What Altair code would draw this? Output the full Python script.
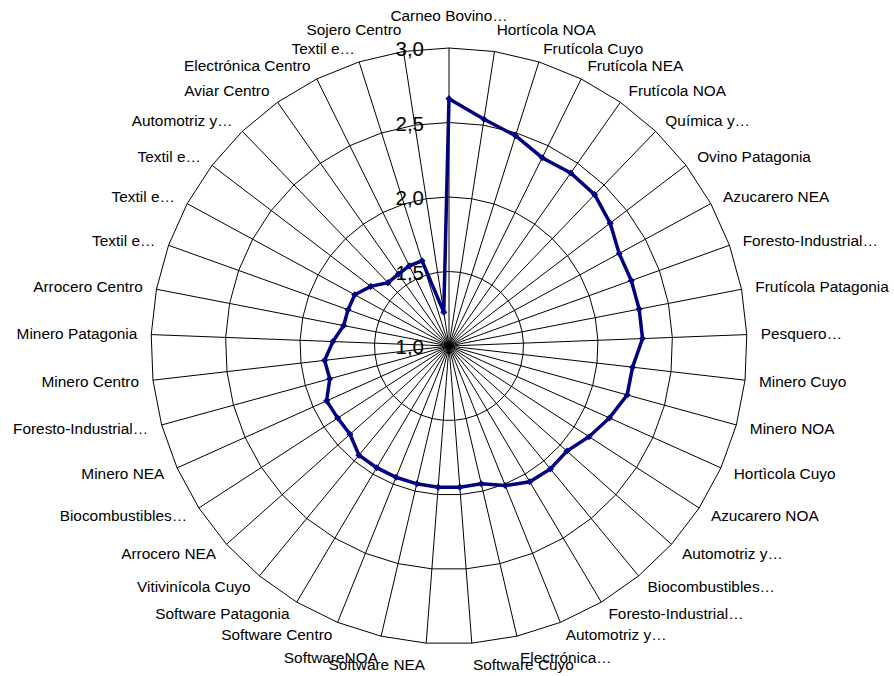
import altair as alt
import pandas as pd

# ---- data ----
categories = [
    "Carneo Bovino…", "Hortícola NOA", "Frutícola Cuyo", "Frutícola NEA", "Frutícola NOA",
    "Química y…", "Ovino Patagonia", "Azucarero NEA", "Foresto-Industrial…", "Frutícola Patagonia",
    "Pesquero…", "Minero Cuyo", "Minero NOA", "Hortìcola Cuyo", "Azucarero NOA",
    "Automotriz y…", "Biocombustibles…", "Foresto-Industrial…", "Automotriz y…", "Electrónica…",
    "Software Cuyo", "Software NEA", "SoftwareNOA", "Software Centro", "Software Patagonia",
    "Vitivinícola Cuyo", "Arrocero NEA", "Biocombustibles…", "Minero NEA", "Foresto-Industrial…",
    "Minero Centro", "Minero Patagonia", "Arrocero Centro", "Textil e…", "Textil e…",
    "Textil e…", "Automotriz y…", "Aviar Centro", "Electrónica Centro", "Textil e…",
    "Sojero Centro",
]
values = [
    2.66, 2.54, 2.48, 2.41, 2.42,
    2.41, 2.36, 2.30, 2.30, 2.30,
    2.30, 2.24, 2.24, 2.18, 2.12,
    2.06, 2.07, 2.06, 2.01, 1.95,
    1.95, 1.95, 1.95, 1.95, 1.95,
    1.95, 1.89, 1.89, 1.90, 1.83,
    1.84, 1.78, 1.72, 1.72, 1.72,
    1.66, 1.59, 1.59, 1.60, 1.60,
    1.23,
]
ring_levels = [1.5, 2.0, 2.5, 3.0]
tick_values = [1.0, 1.5, 2.0, 2.5, 3.0]
tick_labels = ["1,0", "1,5", "2,0", "2,5", "3,0"]

# ---- layout constants ----
N = len(categories)
RMIN = tick_values[0]
RSPAN = tick_values[-1] - tick_values[0]
W, H = 894, 676
CX, CY = 449.0, 346.0
PX = 149.0  # pixels per value unit

xscale = alt.Scale(domain=[-CX / PX, (W - CX) / PX], nice=False, zero=False)
yscale = alt.Scale(domain=[-(H - CY) / PX, CY / PX], nice=False, zero=False)

THETA = f"2*PI*datum.idx/{N}"

# ---- tables built from the arrays ----
series = pd.DataFrame({
    "idx": list(range(N)) + [0],
    "ord": list(range(N + 1)),
    "value": values + [values[0]],
})
points = pd.DataFrame({"idx": list(range(N)), "value": values, "cat": categories})
grid = pd.DataFrame([
    {"level": lv, "k": k, "idx": k % N} for lv in ring_levels for k in range(N + 1)
])
spokes = pd.DataFrame({"idx": list(range(N))})
ticks = pd.DataFrame({"value": tick_values, "text": tick_labels})


def xy(chart, field="datum.value"):
    return chart.transform_calculate(
        theta=THETA,
    ).transform_calculate(
        x=f"({field}-{RMIN})*sin(datum.theta)",
        y=f"({field}-{RMIN})*cos(datum.theta)",
    )


X = alt.X("x:Q", scale=xscale, axis=None)
Y = alt.Y("y:Q", scale=yscale, axis=None)

grid_layer = xy(alt.Chart(grid), "datum.level").mark_line(
    color="black", strokeWidth=1
).encode(x=X, y=Y, detail="level:N", order="k:Q")

spoke_layer = alt.Chart(spokes).transform_calculate(
    theta=THETA
).transform_calculate(
    x0="0", y0="0",
    x1=f"{RSPAN}*sin(datum.theta)",
    y1=f"{RSPAN}*cos(datum.theta)",
).mark_rule(color="black", strokeWidth=1).encode(
    x=alt.X("x0:Q", scale=xscale, axis=None),
    y=alt.Y("y0:Q", scale=yscale, axis=None),
    x2="x1:Q", y2="y1:Q",
)

tick_layer = alt.Chart(ticks).transform_calculate(
    x="0", y=f"datum.value-{RMIN}"
).mark_text(
    align="right", baseline="middle", dx=-25, dy=2,
    fontSize=20.5, font="Liberation Sans", color="black",
).encode(x=X, y=Y, text="text:N")

line_layer = xy(alt.Chart(series)).mark_line(
    color="#000080", strokeWidth=3.5
).encode(x=X, y=Y, order="ord:Q")

marker_layer = xy(alt.Chart(points)).mark_point(
    shape="diamond", filled=True, size=50, color="#000080", opacity=1
).encode(x=X, y=Y)

GAP = 14.0 / PX
VSH = 8.0 / PX
TOPX = 10.0 / PX
label_base = alt.Chart(points).transform_calculate(
    theta=THETA
).transform_calculate(
    s="sin(datum.theta)", c="cos(datum.theta)"
).transform_calculate(
    rr=f"{RSPAN}+{GAP}+(abs(datum.s)<0.05 ? {TOPX} : 0)"
).transform_calculate(
    x="datum.rr*datum.s",
    y=f"datum.rr*datum.c + (abs(datum.c)>0.96 ? (datum.c>0 ? {VSH} : -{VSH}) : 0)",
)


def label_layer(cond, align):
    return label_base.transform_filter(cond).mark_text(
        align=align, baseline="middle", fontSize=15.4,
        font="Liberation Sans", color="black",
    ).encode(x=X, y=Y, text="cat:N")


labels_left = label_layer("datum.s > 0.05", "left")
labels_right = label_layer("datum.s < -0.05", "right")
labels_center = label_layer("abs(datum.s) <= 0.05", "center")

chart = alt.layer(
    grid_layer, spoke_layer, tick_layer, line_layer, marker_layer,
    labels_left, labels_right, labels_center,
).properties(
    width=W, height=H, autosize="none", padding=0, background="white",
).configure_view(stroke=None)

chart.save("out.html", embed_options={"renderer": "svg", "actions": False})
